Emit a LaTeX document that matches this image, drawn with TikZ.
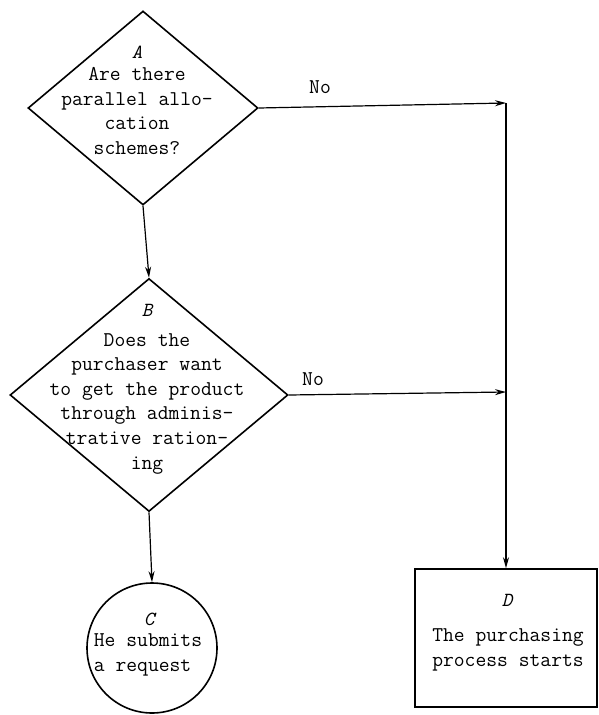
\documentclass[tikz,border=0pt]{standalone}
\usetikzlibrary{shapes.geometric,arrows.meta}
\begin{document}
\begin{tikzpicture}[x=1pt,y=-1pt,
  shapeline/.style={draw=black,line width=1.6pt},
  dia/.style={shapeline,diamond,inner sep=0pt},
  body/.style={font=\ttfamily\fontsize{21}{24.6}\selectfont,align=center,inner sep=0pt},
  tag/.style={font=\ttfamily\fontsize{20}{22}\selectfont\itshape,inner sep=0pt},
  lbl/.style={font=\ttfamily\fontsize{21}{22}\selectfont,inner sep=0pt},
  flow/.style={line width=1.2pt,-{Stealth[length=11pt,width=6pt]}},
  plain/.style={line width=1.2pt}]
\useasboundingbox (0,0) rectangle (598,715);

% decision A
\node[dia,minimum width=230pt,minimum height=194pt] (A) at (143,108) {};
\node[tag] (Atag) at (137,52) {A};
\node[body] (Atxt) at (137,111) {Are there\\parallel allo-\\cation\\schemes?};

% decision B
\node[dia,minimum width=278pt,minimum height=233pt] (B) at (149,395) {};
\node[tag] (Btag) at (147,310) {B};
\node[body] (Btxt) at (147,403.5) {Does the\\purchaser want\\to get the product\\through adminis-\\trative ration-\\ing};

% outcome C
\node[shapeline,circle,minimum size=130pt,inner sep=0pt] (C) at (152,648) {};
\node[tag] (Ctag) at (149,619) {C};
\node[body,align=left] (Ctxt) at (148,655) {He submits\\a request};

% outcome D
\node[shapeline,rectangle,minimum width=182pt,minimum height=138pt,inner sep=0pt] (D) at (506,638) {};
\node[tag] (Dtag) at (507,600) {D};
\node[body] (Dtxt) at (508,650) {The purchasing\\process starts};

% junctions on the right-hand trunk
\coordinate (j1) at (506,103);
\coordinate (j2) at (506,392);

% connectors
\draw[flow] (A.south) -- (B.north);
\draw[flow] (B.south) -- (C.north);
\draw[flow] (A.east) -- (j1);
\draw[flow] (B.east) -- (j2);
\draw[plain] (j1) -- (j2);
\draw[flow] (j2) -- (D.north);

% branch labels
\node[lbl] (no1) at (320,87) {No};
\node[lbl] (no2) at (313,379) {No};
\end{tikzpicture}
\end{document}
